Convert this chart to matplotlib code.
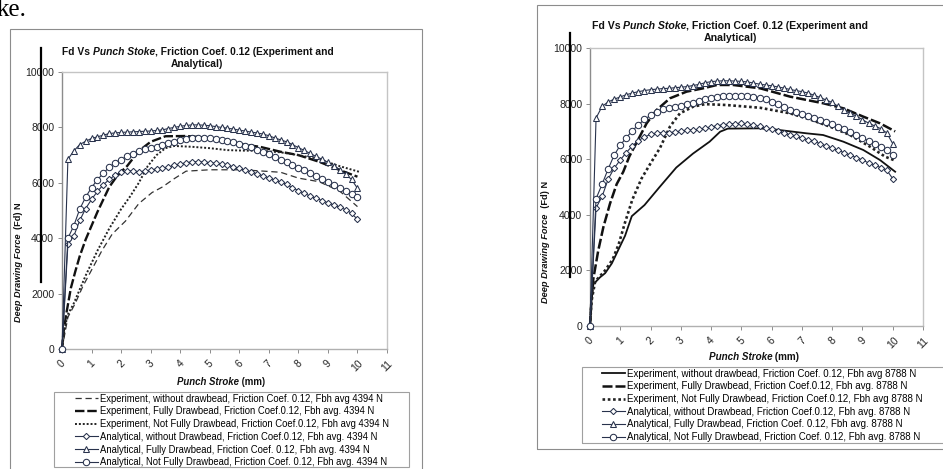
import matplotlib
matplotlib.use("Agg")
import matplotlib.pyplot as plt
from matplotlib.lines import Line2D
from matplotlib.patches import Rectangle

plt.rcParams['font.family'] = ['Liberation Sans', 'DejaVu Sans']

W, H = 943, 469

# ---------------- data ----------------
X_TICKS = [0, 1, 2, 3, 4, 5, 6, 7, 8, 9, 10, 11]
Y_TICKS = [0, 2000, 4000, 6000, 8000, 10000]

# stroke positions of the analytical points (mm)
STROKE = [0.0, 0.2, 0.4, 0.6, 0.8, 1.0, 1.2, 1.4, 1.6, 1.8, 2.0, 2.2, 2.4, 2.6, 2.8,
          3.0, 3.2, 3.4, 3.6, 3.8, 4.0, 4.2, 4.4, 4.6, 4.8, 5.0, 5.2, 5.4, 5.6, 5.8,
          6.0, 6.2, 6.4, 6.6, 6.8, 7.0, 7.2, 7.4, 7.6, 7.8, 8.0, 8.2, 8.4, 8.6, 8.8,
          9.0, 9.2, 9.4, 9.6, 9.8, 10.0]

# ---- left chart: Fbh avg 4394 N ----
L_AN_WITHOUT = [0, 3780, 4080, 4640, 5070, 5400, 5690, 5930, 6120, 6280, 6390, 6430, 6430, 6400, 6420,
                6460, 6500, 6530, 6570, 6630, 6680, 6720, 6760, 6760, 6750, 6730, 6700, 6670, 6630, 6580,
                6520, 6460, 6400, 6320, 6250, 6180, 6100, 6030, 5940, 5820, 5720, 5620, 5520, 5440, 5360,
                5280, 5200, 5120, 5030, 4900, 4680]
L_AN_FULL = [0, 6850, 7150, 7380, 7500, 7600, 7660, 7720, 7780, 7800, 7820, 7830, 7840, 7850, 7860,
             7870, 7890, 7910, 7960, 8000, 8040, 8070, 8090, 8090, 8080, 8060, 8030, 8000, 7970, 7940,
             7900, 7870, 7830, 7800, 7760, 7700, 7620, 7550, 7480, 7380, 7270, 7170, 7060, 6950, 6850,
             6740, 6620, 6480, 6310, 6120, 5800]
L_AN_NOTFULL = [0, 4000, 4450, 5050, 5480, 5830, 6110, 6350, 6560, 6720, 6840, 6950, 7050, 7160, 7230,
                7270, 7310, 7360, 7430, 7490, 7540, 7590, 7630, 7630, 7620, 7600, 7580, 7550, 7510, 7460,
                7400, 7340, 7280, 7200, 7120, 7030, 6920, 6820, 6740, 6650, 6550, 6450, 6340, 6230, 6130,
                6020, 5910, 5800, 5690, 5590, 5480]

L_EX_WITHOUT_X = [0, 0.2, 0.45, 0.7, 1.0, 1.35, 1.7, 2.15, 2.6, 3.05, 3.4, 3.8, 4.2, 5.0, 6.1, 6.7,
                  7.4, 8.0, 8.7, 9.4, 10.0]
L_EX_WITHOUT_Y = [0, 1150, 1650, 2250, 2850, 3550, 4150, 4620, 5250, 5650, 5850, 6150, 6420, 6470, 6470,
                  6430, 6380, 6170, 6040, 5700, 5140]
L_EX_FULL_X = [0, 0.05, 0.15, 0.3, 0.45, 0.6, 0.8, 1.0, 1.2, 1.4, 1.6, 1.8, 2.0, 2.2, 2.6, 3.0, 3.5,
               4.2, 4.8, 5.5, 6.0, 6.7, 7.4, 8.0, 8.7, 9.4, 10.0]
L_EX_FULL_Y = [0, 600, 1300, 2200, 2800, 3350, 3950, 4450, 4950, 5400, 5850, 6150, 6400, 6600, 7150,
               7480, 7680, 7690, 7640, 7480, 7400, 7300, 7120, 7000, 6760, 6460, 6220]
L_EX_NOTFULL_X = [0, 0.1, 0.2, 0.4, 0.6, 0.8, 1.0, 1.2, 1.4, 1.6, 1.8, 2.0, 2.3, 2.6, 2.9, 3.2, 3.5,
                  3.8, 4.4, 5.0, 5.6, 6.2, 6.7, 7.4, 8.0, 8.7, 9.4, 10.05]
L_EX_NOTFULL_Y = [0, 800, 1250, 1650, 2150, 2650, 3100, 3550, 3950, 4350, 4700, 5050, 5500, 6000, 6600,
                  7000, 7250, 7330, 7300, 7250, 7180, 7160, 7160, 7100, 7000, 6850, 6600, 6400]

# ---- right chart: Fbh avg 8788 N ----
R_AN_WITHOUT = [0, 4250, 4660, 5280, 5680, 5970, 6240, 6480, 6670, 6800, 6890, 6940, 6950, 6950, 6980,
                7010, 7040, 7060, 7070, 7110, 7160, 7200, 7240, 7260, 7280, 7290, 7260, 7230, 7180, 7130,
                7070, 7000, 6940, 6880, 6820, 6760, 6700, 6640, 6560, 6480, 6400, 6320, 6230, 6150, 6060,
                5970, 5870, 5790, 5700, 5610, 5300]
R_AN_FULL = [0, 7480, 7900, 8060, 8160, 8240, 8320, 8380, 8430, 8470, 8500, 8520, 8540, 8550, 8570,
             8590, 8610, 8650, 8690, 8750, 8790, 8810, 8820, 8820, 8810, 8800, 8780, 8740, 8700, 8670,
             8640, 8600, 8560, 8510, 8470, 8430, 8380, 8300, 8220, 8130, 8040, 7900, 7760, 7650, 7550,
             7420, 7300, 7200, 7100, 6950, 6560]
R_AN_NOTFULL = [0, 4580, 5100, 5650, 6150, 6500, 6780, 7020, 7240, 7430, 7580, 7700, 7790, 7840, 7880,
                7920, 7970, 8030, 8090, 8160, 8210, 8240, 8260, 8280, 8280, 8280, 8270, 8250, 8210, 8150,
                8070, 7990, 7880, 7780, 7700, 7620, 7550, 7480, 7410, 7340, 7260, 7170, 7080, 6990, 6880,
                6770, 6660, 6550, 6440, 6330, 6150]

R_EX_WITHOUT_X = [0, 0.05, 0.11, 0.33, 0.5, 0.72, 0.94, 1.16, 1.38, 1.8, 2.3, 2.85, 3.4, 3.95, 4.3,
                  4.55, 5.6, 6.1, 7.16, 7.7, 8.37, 9.03, 9.58, 10.08]
R_EX_WITHOUT_Y = [0, 900, 1500, 1750, 1900, 2250, 2750, 3250, 3950, 4350, 5000, 5700, 6200, 6630, 6990,
                  7100, 7110, 7070, 6930, 6870, 6630, 6330, 5970, 5550]
R_EX_FULL_X = [0, 0.05, 0.11, 0.27, 0.44, 0.66, 0.88, 1.1, 1.3, 1.54, 1.87, 2.2, 2.64, 3.19, 3.74,
               4.19, 4.73, 5.62, 6.61, 7.71, 8.37, 9.03, 9.58, 10.08]
R_EX_FULL_Y = [0, 1000, 1700, 2700, 3550, 4400, 5100, 5550, 6100, 6600, 7290, 7770, 8190, 8430, 8550,
               8670, 8670, 8550, 8250, 8010, 7830, 7530, 7290, 7000]
R_EX_NOTFULL_X = [0, 0.05, 0.17, 0.5, 0.75, 0.95, 1.15, 1.4, 1.7, 2.0, 2.31, 2.64, 2.97, 3.41, 3.8,
                  4.5, 5.62, 6.61, 7.27, 7.93, 8.59, 9.25, 9.75, 10.08]
R_EX_NOTFULL_Y = [0, 900, 1600, 2000, 2400, 2950, 3700, 4550, 5300, 5850, 6400, 7170, 7650, 7890, 7980,
                  7950, 7850, 7650, 7430, 7170, 6870, 6450, 6090, 5950]

L_LABELS = ["Experiment, without drawbead, Friction Coef. 0.12, Fbh avg 4394 N",
            "Experiment, Fully Drawbead, Friction Coef.0.12, Fbh avg. 4394 N",
            "Experiment, Not Fully Drawbead, Friction Coef.0.12, Fbh avg 4394 N",
            "Analytical, without Drawbead, Friction Coef.0.12, Fbh avg. 4394 N",
            "Analytical, Fully Drawbead, Friction Coef. 0.12, Fbh avg. 4394 N",
            "Analytical, Not Fully Drawbead, Friction Coef. 0.12, Fbh avg. 4394 N"]
R_LABELS = ["Experiment, without drawbead, Friction Coef. 0.12, Fbh avg 8788 N",
            "Experiment, Fully Drawbead, Friction Coef.0.12, Fbh avg. 8788 N",
            "Experiment, Not Fully Drawbead, Friction Coef.0.12, Fbh avg 8788 N",
            "Analytical, without Drawbead, Friction Coef.0.12, Fbh avg. 8788 N",
            "Analytical, Fully Drawbead, Friction Coef. 0.12, Fbh avg. 8788 N",
            "Analytical, Not Fully Drawbead, Friction Coef. 0.12, Fbh avg. 8788 N"]

TITLE_PARTS = [("Fd Vs ", "normal"), ("Punch Stoke", "italic"),
               (", Friction Coef. 0.12 (Experiment and", "normal")]
TITLE_LINE2 = "Analytical)"
XLABEL_PARTS = [("Punch Stroke", "italic"), (" (mm)", "normal")]
YLABEL_PARTS = [("Deep Drawing Force", "italic"), ("  (Fd) N", "normal")]

# ---------------- figure ----------------
fig = plt.figure(figsize=(W / 100, H / 100), dpi=100)
fig.patch.set_facecolor("white")
renderer = fig.canvas.get_renderer()


def fx(x):
    return x / W


def fy(y):
    return 1 - y / H


def rich(x, y, parts, size, rotation=0, color="#111111"):
    widths = []
    for s, st in parts:
        t = fig.text(0, 0, s, fontsize=size, fontweight="bold", fontstyle=st)
        widths.append(t.get_window_extent(renderer).width)
        t.remove()
    pos = -sum(widths) / 2
    for (s, st), w in zip(parts, widths):
        if rotation == 0:
            px, py = x + pos, y
        else:
            px, py = x, y - pos
        fig.text(fx(px), fy(py), s, fontsize=size, fontweight="bold", fontstyle=st,
                 ha="left", va="center", rotation=rotation, rotation_mode="anchor", color=color)
        pos += w


AN_COLOR = "#28324c"


def make_axes(box, ex, an, ex_styles, msize, tsize):
    x0, y0, x1, y1 = box
    ax = fig.add_axes([fx(x0), fy(y1), (x1 - x0) / W, (y1 - y0) / H])
    ax.set_xlim(X_TICKS[0], X_TICKS[-1])
    ax.set_ylim(Y_TICKS[0], Y_TICKS[-1])
    ax.set_xticks(X_TICKS)
    ax.set_yticks(Y_TICKS)
    ax.set_xticklabels([str(v) for v in X_TICKS], rotation=45, ha="center", va="top")
    ax.set_yticklabels([str(v) for v in Y_TICKS])
    for s in ax.spines.values():
        s.set_color("#c4c4c4")
        s.set_linewidth(1.0)
    ax.spines["left"].set_color("#8c8c8c")
    ax.spines["bottom"].set_color("#b0b0b0")
    ax.tick_params(axis="both", direction="out", length=2.6, width=0.7, color="#8c8c8c",
                   labelsize=tsize, labelcolor="#222222")
    ax.tick_params(axis="y", pad=3.0)
    ax.tick_params(axis="x", pad=4.0)
    handles = []
    for (xs, ys), (lw, ls, col) in zip(ex, ex_styles):
        h, = ax.plot(xs, ys, color=col, lw=lw, linestyle=ls, clip_on=False, zorder=3)
        handles.append(h)
    markers = [("D", msize[0]), ("^", msize[1]), ("o", msize[2])]
    for ys, (m, ms) in zip(an, markers):
        h, = ax.plot(STROKE, ys, color=AN_COLOR, lw=0.8, marker=m, ms=ms, mfc="white",
                     mec=AN_COLOR, mew=0.75, clip_on=False, zorder=4)
        handles.append(h)
    return ax, handles


# left chart
axL, hL = make_axes((62, 72, 387, 349),
                    [(L_EX_WITHOUT_X, L_EX_WITHOUT_Y), (L_EX_FULL_X, L_EX_FULL_Y),
                     (L_EX_NOTFULL_X, L_EX_NOTFULL_Y)],
                    [L_AN_WITHOUT, L_AN_FULL, L_AN_NOTFULL],
                    [(0.9, (0, (5, 3)), "#333333"), (1.7, (0, (4, 1.2)), "#111111"),
                     (1.4, (0, (1, 1)), "#222222")],
                    (3.2, 4.8, 4.6), 7.5)
# right chart
axR, hR = make_axes((590, 48, 923, 326),
                    [(R_EX_WITHOUT_X, R_EX_WITHOUT_Y), (R_EX_FULL_X, R_EX_FULL_Y),
                     (R_EX_NOTFULL_X, R_EX_NOTFULL_Y)],
                    [R_AN_WITHOUT, R_AN_FULL, R_AN_NOTFULL],
                    [(1.3, "-", "#111111"), (1.8, (0, (4, 1.2)), "#111111"),
                     (1.9, (0, (1, 1)), "#222222")],
                    (3.2, 4.8, 4.6), 7.6)

# legends (frame drawn separately)
axL.legend(hL, L_LABELS, loc="upper left", bbox_to_anchor=(fx(75), fy(393.5)),
           bbox_transform=fig.transFigure, frameon=False, fontsize=6.85, numpoints=1,
           handlelength=2.4, handletextpad=0.25, labelspacing=0.29, borderpad=0, borderaxespad=0)
axR.legend(hR, R_LABELS, loc="upper left", bbox_to_anchor=(fx(602), fy(368.5)),
           bbox_transform=fig.transFigure, frameon=False, fontsize=7.0, numpoints=1,
           handlelength=2.35, handletextpad=0.25, labelspacing=0.28, borderpad=0, borderaxespad=0)


def box(x0, y0, x1, y1, color, lw):
    fig.add_artist(Rectangle((fx(x0), fy(y1)), (x1 - x0) / W, (y1 - y0) / H,
                             transform=fig.transFigure, fill=False, edgecolor=color, lw=lw,
                             clip_on=False))


box(54, 392, 409, 467, "#a0a0a0", 0.8)
box(582, 367, 960, 443, "#a0a0a0", 0.8)
# outer chart borders
box(10, 29, 422, 480, "#8c8c8c", 0.8)
box(537, 5, 960, 449, "#8c8c8c", 0.8)

# thick black vertical strokes
fig.add_artist(Line2D([fx(41), fx(41)], [fy(48), fy(282)], transform=fig.transFigure,
                      color="black", lw=1.6))
fig.add_artist(Line2D([fx(570), fx(570)], [fy(33), fy(277)], transform=fig.transFigure,
                      color="black", lw=1.6))

# titles
rich(198, 52, TITLE_PARTS, 7.4)
rich(197, 64, [(TITLE_LINE2, "normal")], 7.4)
rich(730, 26, TITLE_PARTS, 7.6)
rich(730, 38, [(TITLE_LINE2, "normal")], 7.6)

# axis labels
rich(221, 382, XLABEL_PARTS, 6.9)
rich(754, 357, XLABEL_PARTS, 7.1)
rich(18.5, 262, YLABEL_PARTS, 6.6, rotation=90)
rich(545, 242, YLABEL_PARTS, 6.7, rotation=90)

# fragment of body text above the charts
fig.text(fx(-3), fy(16), "ke.", family=["Liberation Serif", "DejaVu Serif"], fontsize=18,
         ha="left", va="baseline", color="black")

fig.savefig("out.png", dpi=100, facecolor="white")
